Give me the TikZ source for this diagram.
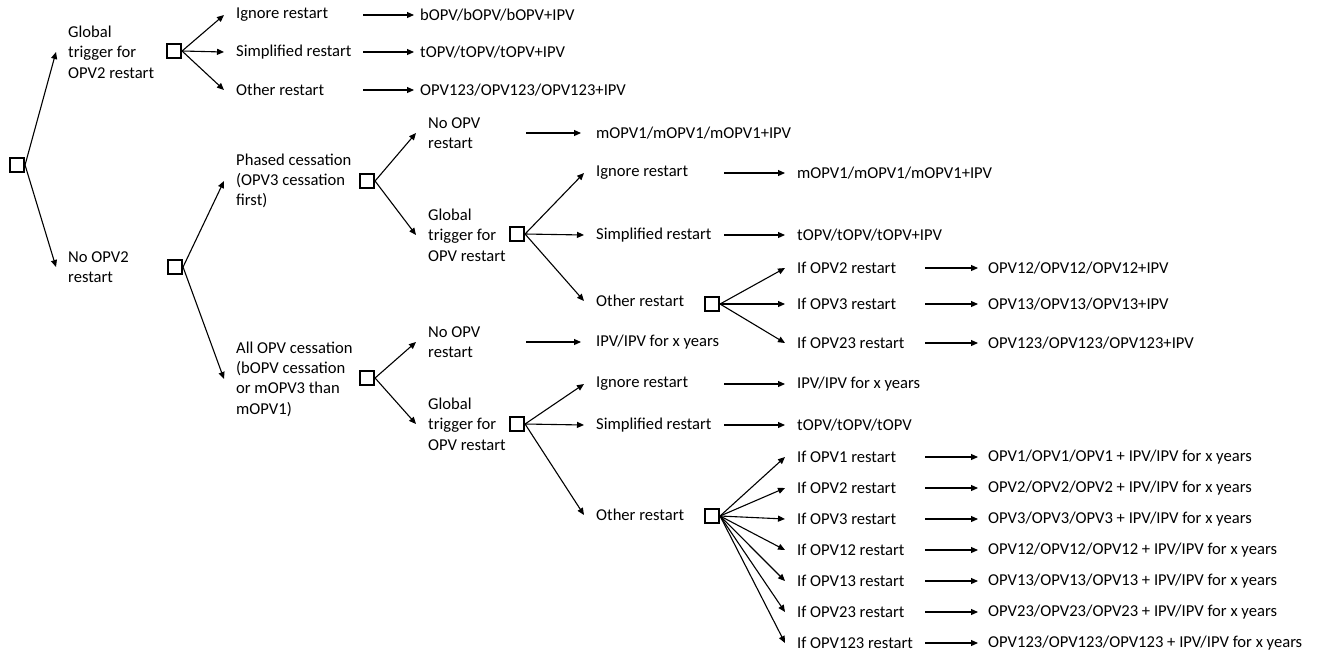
\documentclass[tikz,border=0pt]{standalone}
\usepackage{fontspec}
\setmainfont{Carlito}
\usetikzlibrary{arrows.meta}
\tikzset{
  dbox/.style={draw, line width=1.6pt, minimum size=14.5pt, inner sep=0pt},
  lbl/.style={anchor=west, align=left, inner xsep=12pt, inner ysep=0pt},
  res/.style={anchor=west, inner xsep=#1, inner ysep=0pt},
  res/.default=6pt,
  arr/.style={line width=1.1pt, -{Triangle[length=7pt,width=6pt]}}
}

\begin{document}
\begin{tikzpicture}[x=1pt, y=-1pt, font=\fontsize{16.6}{20.3}\selectfont]
		\useasboundingbox (0,0) rectangle (1321,654);
		%%%%% DECISION BOXES %%%%%
		\node[dbox] (r) at (17,165) {};
		\node[dbox] (a) at (174,51) {};
		\node[dbox] (b) at (175,267) {};
		\node[dbox] (c) at (367,181) {};
		\node[dbox] (d) at (517,234) {};
		\node[dbox] (e) at (712,304) {};
		\node[dbox] (f) at (367,378) {};
		\node[dbox] (g) at (517,424) {};
		\node[dbox] (h) at (712,516) {};
		
		%%%%% BRANCH LABELS %%%%%
		\node[lbl] (glob2) at (56,52) {Global\\trigger for\\OPV2 restart};
		\node[lbl] (noopv2) at (56,267) {No OPV2\\restart};
		
		\node[lbl] (ign1) at (224,15) {Ignore restart};
		\node[lbl] (sim1) at (224,52) {Simplified restart};
		\node[lbl] (oth1) at (224,90) {Other restart};
		
		\node[lbl] (phased) at (224,181) {Phased cessation\\(OPV3 cessation\\first)};
		\node[lbl] (allopv) at (224,379) {All OPV cessation\\(bOPV cessation\\or mOPV3 than\\mOPV1)};
		
		\node[lbl] (nores1) at (416,133) {No OPV\\restart};
		\node[lbl] (glob1) at (416,235) {Global\\trigger for\\OPV restart};
		\node[lbl] (nores2) at (416,342) {No OPV\\restart};
		\node[lbl] (glob3) at (416,424) {Global\\trigger for\\OPV restart};
		
		\node[lbl] (ign2) at (584,173) {Ignore restart};
		\node[lbl] (sim2) at (584,235) {Simplified restart};
		\node[lbl] (oth2) at (584,301) {Other restart};
		\node[lbl] (ign3) at (584,384) {Ignore restart};
		\node[lbl] (sim3) at (584,425) {Simplified restart};
		\node[lbl] (oth3) at (584,515) {Other restart};
		
		\node[lbl] (ife2) at (785,268) {If OPV2 restart};
		\node[lbl] (ife3) at (785,304) {If OPV3 restart};
		\node[lbl] (ife23) at (785,343) {If OPV23 restart};
		
		\node[lbl] (ifh1) at (785,457) {If OPV1 restart};
		\node[lbl] (ifh2) at (785,488) {If OPV2 restart};
		\node[lbl] (ifh3) at (785,519) {If OPV3 restart};
		\node[lbl] (ifh12) at (785,550) {If OPV12 restart};
		\node[lbl] (ifh13) at (785,581) {If OPV13 restart};
		\node[lbl] (ifh23) at (785,612) {If OPV23 restart};
		\node[lbl] (ifh123) at (785,643) {If OPV123 restart};
		
		%%%%% OUTCOMES %%%%%
		\node[res] (ra1) at (414,15) {bOPV/bOPV/bOPV+IPV};
		\node[res] (ra2) at (414,52) {tOPV/tOPV/tOPV+IPV};
		\node[res] (ra3) at (414,90) {OPV123/OPV123/OPV123+IPV};
		
		\node[res=15pt] (rc1) at (581,133) {mOPV1/mOPV1/mOPV1+IPV};
		\node[res=15pt] (rf1) at (581,342) {IPV/IPV for x years};
		
		\node[res=12pt] (rd1) at (785,173) {mOPV1/mOPV1/mOPV1+IPV};
		\node[res=12pt] (rd2) at (785,235) {tOPV/tOPV/tOPV+IPV};
		\node[res=12pt] (rg1) at (785,384) {IPV/IPV for x years};
		\node[res=12pt] (rg2) at (785,425) {tOPV/tOPV/tOPV};
		
		\node[res=10pt] (re2) at (978,268) {OPV12/OPV12/OPV12+IPV};
		\node[res=10pt] (re3) at (978,304) {OPV13/OPV13/OPV13+IPV};
		\node[res=10pt] (re23) at (978,343) {OPV123/OPV123/OPV123+IPV};
		
		\node[res=10pt] (rh1) at (978,457) {OPV1/OPV1/OPV1 + IPV/IPV for x years};
		\node[res=10pt] (rh2) at (978,488) {OPV2/OPV2/OPV2 + IPV/IPV for x years};
		\node[res=10pt] (rh3) at (978,519) {OPV3/OPV3/OPV3 + IPV/IPV for x years};
		\node[res=10pt] (rh12) at (978,550) {OPV12/OPV12/OPV12 + IPV/IPV for x years};
		\node[res=10pt] (rh13) at (978,581) {OPV13/OPV13/OPV13 + IPV/IPV for x years};
		\node[res=10pt] (rh23) at (978,612) {OPV23/OPV23/OPV23 + IPV/IPV for x years};
		\node[res=10pt] (rh123) at (978,643) {OPV123/OPV123/OPV123 + IPV/IPV for x years};
		
		%%%%% START COLUMNS OF OUTCOME ARROWS %%%%%
		\coordinate (ca) at (363,0);
		\coordinate (cc) at (526,0);
		\coordinate (cd) at (724,0);
		\coordinate (ce) at (925,0);
		
		%%%%% BRANCHES %%%%%
		\draw[arr] (r.east) -- (glob2.west);
		\draw[arr] (r.east) -- (noopv2.west);
		
		\draw[arr] (a.east) -- (ign1.west);
		\draw[arr] (a.east) -- (sim1.west);
		\draw[arr] (a.east) -- (oth1.west);
		
		\draw[arr] (b.east) -- (phased.west);
		\draw[arr] (b.east) -- (allopv.west);
		
		\draw[arr] (c.east) -- (nores1.west);
		\draw[arr] (c.east) -- (glob1.west);
		\draw[arr] (f.east) -- (nores2.west);
		\draw[arr] (f.east) -- (glob3.west);
		
		\draw[arr] (d.east) -- (ign2.west);
		\draw[arr] (d.east) -- (sim2.west);
		\draw[arr] (d.east) -- (oth2.west);
		\draw[arr] (g.east) -- (ign3.west);
		\draw[arr] (g.east) -- (sim3.west);
		\draw[arr] (g.east) -- (oth3.west);
		
		\draw[arr] (e.east) -- (ife2.west);
		\draw[arr] (e.east) -- (ife3.west);
		\draw[arr] (e.east) -- (ife23.west);
		
		\draw[arr] (h.east) -- (ifh1.west);
		\draw[arr] (h.east) -- (ifh2.west);
		\draw[arr] (h.east) -- (ifh3.west);
		\draw[arr] (h.east) -- (ifh12.west);
		\draw[arr] (h.east) -- (ifh13.west);
		\draw[arr] (h.east) -- (ifh23.west);
		\draw[arr] (h.east) -- (ifh123.west);
		
		%%%%% OUTCOME ARROWS %%%%%
		\draw[arr] (ra1.west -| ca) -- (ra1.west);
		\draw[arr] (ra2.west -| ca) -- (ra2.west);
		\draw[arr] (ra3.west -| ca) -- (ra3.west);
		
		\draw[arr] (rc1.west -| cc) -- (rc1.west);
		\draw[arr] (rf1.west -| cc) -- (rf1.west);
		
		\draw[arr] (rd1.west -| cd) -- (rd1.west);
		\draw[arr] (rd2.west -| cd) -- (rd2.west);
		\draw[arr] (rg1.west -| cd) -- (rg1.west);
		\draw[arr] (rg2.west -| cd) -- (rg2.west);
		
		\draw[arr] (re2.west -| ce) -- (re2.west);
		\draw[arr] (re3.west -| ce) -- (re3.west);
		\draw[arr] (re23.west -| ce) -- (re23.west);
		\draw[arr] (rh1.west -| ce) -- (rh1.west);
		\draw[arr] (rh2.west -| ce) -- (rh2.west);
		\draw[arr] (rh3.west -| ce) -- (rh3.west);
		\draw[arr] (rh12.west -| ce) -- (rh12.west);
		\draw[arr] (rh13.west -| ce) -- (rh13.west);
		\draw[arr] (rh23.west -| ce) -- (rh23.west);
		\draw[arr] (rh123.west -| ce) -- (rh123.west);
	\end{tikzpicture}
\end{document}
